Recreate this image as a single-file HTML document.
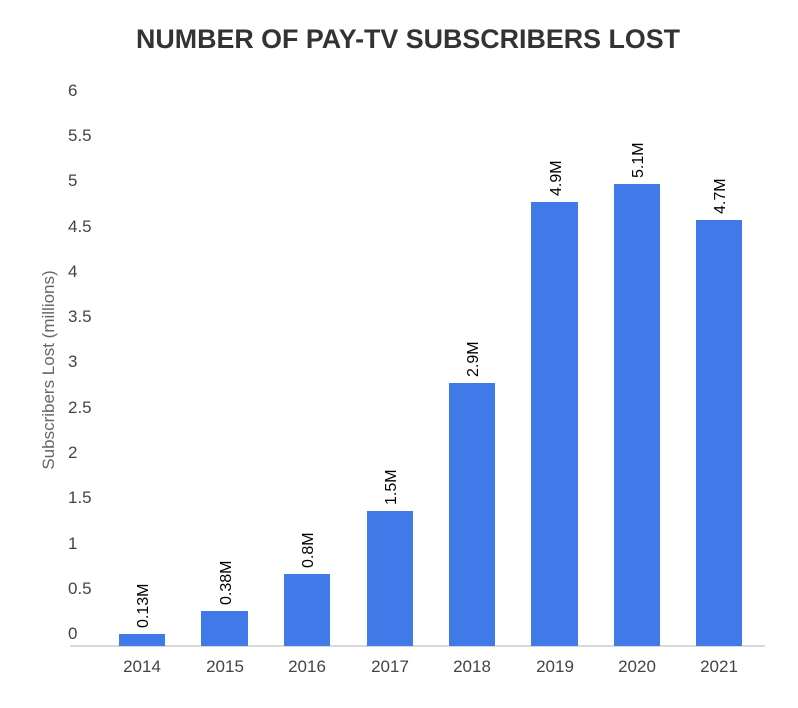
<!DOCTYPE html>
<html><head><meta charset="utf-8"><style>html,body{margin:0;padding:0;background:#fff}</style></head>
<body>
<svg width="798" height="703" xmlns="http://www.w3.org/2000/svg" font-family="Liberation Sans, Arial, sans-serif">
<rect width="798" height="703" fill="#fff"/>
<text x="408" y="48" text-anchor="middle" font-size="27" font-weight="bold" fill="#333" textLength="544" lengthAdjust="spacingAndGlyphs">NUMBER OF PAY-TV SUBSCRIBERS LOST</text>
<g font-size="17" fill="#444">
<text x="68" y="639">0</text>
<text x="68" y="594">0.5</text>
<text x="68" y="549">1</text>
<text x="68" y="503">1.5</text>
<text x="68" y="458">2</text>
<text x="68" y="413">2.5</text>
<text x="68" y="367">3</text>
<text x="68" y="322">3.5</text>
<text x="68" y="277">4</text>
<text x="68" y="232">4.5</text>
<text x="68" y="186">5</text>
<text x="68" y="141">5.5</text>
<text x="68" y="96">6</text>
</g>
<text transform="translate(54,370) rotate(-90)" text-anchor="middle" font-size="17" fill="#666">Subscribers Lost (millions)</text>
<line x1="70" y1="646" x2="765" y2="646" stroke="#ccc" stroke-width="1.5"/>
<g fill="#4079e8">
<rect x="119" y="634" width="46" height="12"/>
<rect x="201" y="611" width="47" height="35"/>
<rect x="284" y="574" width="46" height="72"/>
<rect x="367" y="511" width="46" height="135"/>
<rect x="449" y="383" width="46" height="263"/>
<rect x="531" y="202" width="47" height="444"/>
<rect x="614" y="184" width="46" height="462"/>
<rect x="696" y="220" width="46" height="426"/>
</g>
<g font-size="16" fill="#000">
<text transform="translate(148,628) rotate(-90)">0.13M</text>
<text transform="translate(231,605) rotate(-90)">0.38M</text>
<text transform="translate(313,568) rotate(-90)">0.8M</text>
<text transform="translate(396,505) rotate(-90)">1.5M</text>
<text transform="translate(478,377) rotate(-90)">2.9M</text>
<text transform="translate(561,196) rotate(-90)">4.9M</text>
<text transform="translate(643,178) rotate(-90)">5.1M</text>
<text transform="translate(725,214) rotate(-90)">4.7M</text>
</g>
<g font-size="17" fill="#444" text-anchor="middle">
<text x="142" y="672">2014</text>
<text x="225" y="672">2015</text>
<text x="307" y="672">2016</text>
<text x="390" y="672">2017</text>
<text x="472" y="672">2018</text>
<text x="555" y="672">2019</text>
<text x="637" y="672">2020</text>
<text x="719" y="672">2021</text>
</g>
</svg>
</body></html>
